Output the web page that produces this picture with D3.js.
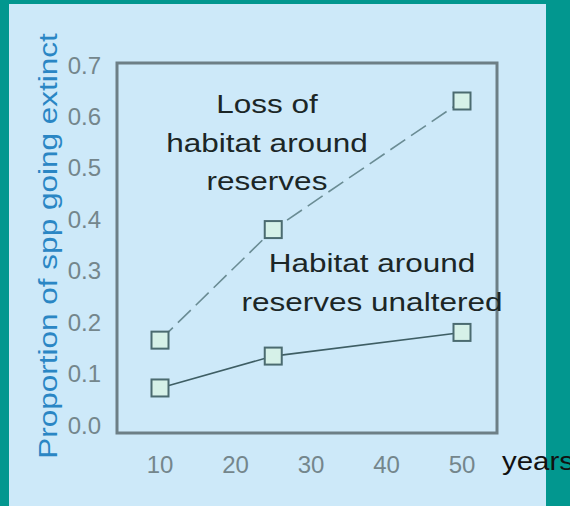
<!DOCTYPE html>
<html>
<head>
<meta charset="utf-8">
<script src="https://cdn.jsdelivr.net/npm/d3@7"></script>
<style>
  html, body { margin: 0; padding: 0; background: #02978f; }
  svg { display: block; }
  text { font-family: "Liberation Sans", Arial, sans-serif; }
</style>
</head>
<body>
<svg id="chart" width="570" height="506"></svg>
<script>
// data
const years = [10, 25, 50];
const lossAround = [0.165, 0.38, 0.63];
const unaltered = [0.072, 0.134, 0.18];
const xTicks = [10, 20, 30, 40, 50];
const yTicks = [0, 0.1, 0.2, 0.3, 0.4, 0.5, 0.6, 0.7];
const lossLabel = ["Loss of", "habitat around", "reserves"];
const unalteredLabel = ["Habitat around", "reserves unaltered"];

const W = 570, H = 506;
const stretch = 1.26; // the original font is wide

const svg = d3.select("#chart");

// light blue panel
svg.append("rect")
  .attr("x", 9).attr("y", 4)
  .attr("width", 537).attr("height", H - 4)
  .attr("fill", "#cde9f9");

const x = d3.scaleLinear().domain([10, 50]).range([160, 462]);
const y = d3.scaleLinear().domain([0, 0.7]).range([425, 65]);

// frame box
svg.append("rect")
  .attr("x", 117).attr("y", 63)
  .attr("width", 380).attr("height", 370)
  .attr("fill", "none")
  .attr("stroke", "#6d7f86")
  .attr("stroke-width", 3);

// y tick labels
svg.selectAll("text.ytick")
  .data(yTicks)
  .enter()
  .append("text")
  .attr("class", "ytick")
  .attr("x", 101)
  .attr("y", d => y(d))
  .attr("dy", "0.36em")
  .attr("text-anchor", "end")
  .attr("font-size", 24)
  .attr("fill", "#74868c")
  .text(d3.format(".1f"));

// x tick labels
svg.selectAll("text.xtick")
  .data(xTicks)
  .enter()
  .append("text")
  .attr("class", "xtick")
  .attr("x", d => x(d))
  .attr("y", 473)
  .attr("text-anchor", "middle")
  .attr("font-size", 24)
  .attr("fill", "#74868c")
  .text(d => d);

svg.append("text")
  .attr("x", 502).attr("y", 470)
  .attr("font-size", 26)
  .attr("fill", "#111")
  .text("years")
  .attr("textLength", 72)
  .attr("lengthAdjust", "spacingAndGlyphs");

// y axis title
const yTitle = svg.append("text")
  .attr("transform", "translate(57,246) rotate(-90)")
  .attr("text-anchor", "middle")
  .attr("font-size", 25)
  .attr("fill", "#2a86c4")
  .text("Proportion of spp going extinct");
yTitle.attr("textLength", yTitle.node().getComputedTextLength() * stretch)
  .attr("lengthAdjust", "spacingAndGlyphs");

// lines
const line = d3.line()
  .x((d, i) => x(years[i]))
  .y(d => y(d));

svg.append("path")
  .datum(lossAround)
  .attr("d", line)
  .attr("fill", "none")
  .attr("stroke", "#6a8c94")
  .attr("stroke-width", 1.6)
  .attr("stroke-dasharray", "18,7");

svg.append("path")
  .datum(unaltered)
  .attr("d", line)
  .attr("fill", "none")
  .attr("stroke", "#3e5e64")
  .attr("stroke-width", 1.6);

// square markers
const size = 17;
[lossAround, unaltered].forEach(series => {
  svg.append("g")
    .selectAll("rect")
    .data(series)
    .enter()
    .append("rect")
    .attr("x", (d, i) => x(years[i]) - size / 2)
    .attr("y", d => y(d) - size / 2)
    .attr("width", size)
    .attr("height", size)
    .attr("fill", "#d6f1e8")
    .attr("stroke", "#4b6b70")
    .attr("stroke-width", 2);
});

// annotations
function label(lines, cx, firstBaseline) {
  lines.forEach((t, i) => {
    const el = svg.append("text")
      .attr("x", cx)
      .attr("y", firstBaseline + i * 38.5)
      .attr("text-anchor", "middle")
      .attr("font-size", 25)
      .attr("fill", "#1b2626")
      .text(t);
    el.attr("textLength", el.node().getComputedTextLength() * stretch)
      .attr("lengthAdjust", "spacingAndGlyphs");
  });
}
label(lossLabel, 267, 113);
label(unalteredLabel, 372, 272);
</script>
</body>
</html>
